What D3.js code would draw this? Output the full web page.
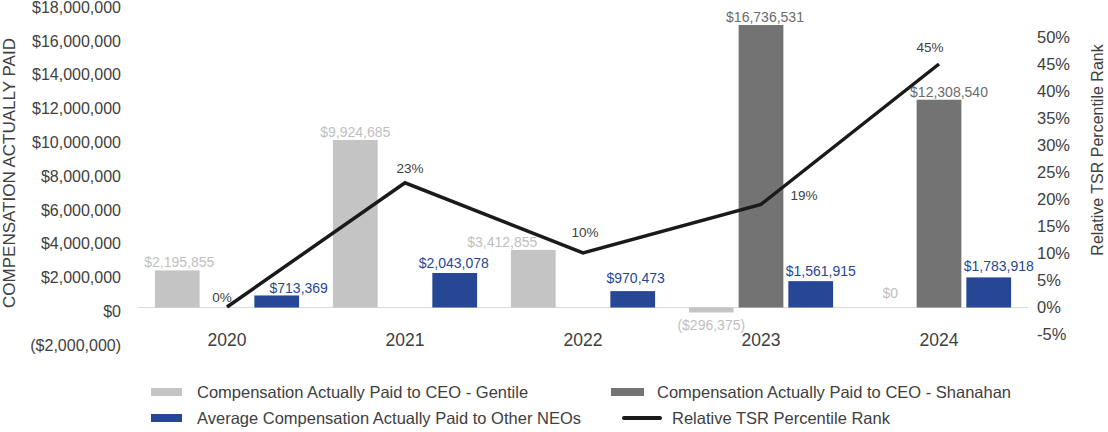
<!DOCTYPE html>
<html>
<head>
<meta charset="utf-8">
<script src="https://cdn.jsdelivr.net/npm/d3@7"></script>
<style>
  body { margin: 0; background: #fff; }
  text { font-family: "Liberation Sans", Arial, sans-serif; }
</style>
</head>
<body>
<div id="vis"></div>
<script>
// data
var years = ["2020", "2021", "2022", "2023", "2024"];
var capGentile = [2195855, 9924685, 3412855, -296375, 0];
var capShanahan = [null, null, null, 16736531, 12308540];
var capNeos = [713369, 2043078, 970473, 1561915, 1783918];
var tsrRank = [0, 23, 10, 19, 45];
var moneyTicks = [-2000000, 0, 2000000, 4000000, 6000000, 8000000, 10000000, 12000000, 14000000, 16000000, 18000000];
var pctTicks = [-5, 0, 5, 10, 15, 20, 25, 30, 35, 40, 45, 50];

// label nudges (Excel placed some labels by hand)
var gentileNudge = [[2, -3], [0, -3], [-31, -3], [0, 17], [1, -10]];
var shanahanNudge = [null, null, null, [4, -3], [10, -3]];
var neosNudge = [[22, -2], [-1, -5], [3, -8], [10, -5], [10, -6]];
var tsrNudge = [[-5, -5], [5, -10], [2, -16], [43, -4], [-9, -12]];

var W = 1108, H = 432;
var colors = { gentile: "#c4c4c4", shanahan: "#737373", neos: "#264796", line: "#1a1a1a" };
var labelColors = { gentile: "#bfbfbf", shanahan: "#6b6b6b", neos: "#264796" };

var svg = d3.select("#vis").append("svg")
    .attr("width", W)
    .attr("height", H);

var x0 = d3.scaleBand().domain(years).range([138, 1028]).paddingInner(0.19).paddingOuter(0.095);
var series = ["gentile", "shanahan", "neos"];
var x1 = d3.scaleBand().domain(series).range([0, x0.bandwidth()]).paddingInner(0.1);

var zeroY = 307.5, pxPerM = 16.88;
var yL = d3.scaleLinear().domain([-2e6, 18e6]).range([zeroY + 2 * pxPerM, zeroY - 18 * pxPerM]);
var yR = d3.scaleLinear().domain([-5, 50]).range([334, 37]);

var fmt = d3.format(",");
function money(v) {
    return v < 0 ? "($" + fmt(-v) + ")" : "$" + fmt(v);
}

// left axis
var leftAxis = svg.append("g")
    .attr("transform", "translate(121,0)")
    .call(d3.axisLeft(yL).tickValues(moneyTicks).tickSize(0).tickPadding(0).tickFormat(money));
leftAxis.select(".domain").remove();
leftAxis.selectAll("text")
    .attr("dy", "0.55em")
    .style("font-size", "16px")
    .style("fill", "#404040");

// right axis
var rightAxis = svg.append("g")
    .attr("transform", "translate(1037,0)")
    .call(d3.axisRight(yR).tickValues(pctTicks).tickSize(0).tickPadding(0).tickFormat(function(d) { return d + "%"; }));
rightAxis.select(".domain").remove();
rightAxis.selectAll("text")
    .attr("dy", "0.33em")
    .style("font-size", "16.5px")
    .style("fill", "#404040");

// axis titles
svg.append("text")
    .attr("transform", "translate(15,173) rotate(-90)")
    .attr("text-anchor", "middle")
    .style("font-size", "17px")
    .style("fill", "#404040")
    .text("COMPENSATION ACTUALLY PAID");

svg.append("text")
    .attr("transform", "translate(1103,150) rotate(-90)")
    .attr("text-anchor", "middle")
    .style("font-size", "16px")
    .style("fill", "#404040")
    .text("Relative TSR Percentile Rank");

// category labels
svg.append("g").selectAll("text")
    .data(years)
    .enter().append("text")
    .attr("x", function(d) { return x0(d) + x0.bandwidth() / 2; })
    .attr("y", 346)
    .attr("text-anchor", "middle")
    .style("font-size", "17.5px")
    .style("fill", "#404040")
    .text(function(d) { return d; });

// zero line
svg.append("line")
    .attr("x1", 138).attr("x2", 1028)
    .attr("y1", yL(0)).attr("y2", yL(0))
    .attr("stroke", "#d9d9d9")
    .attr("stroke-width", 1);

// bars
var seriesValues = { gentile: capGentile, shanahan: capShanahan, neos: capNeos };
var seriesNudge = { gentile: gentileNudge, shanahan: shanahanNudge, neos: neosNudge };

series.forEach(function(s) {
    var vals = seriesValues[s];
    var g = svg.append("g");
    years.forEach(function(yr, i) {
        var v = vals[i];
        if (v === null) return;
        var bx = x0(yr) + x1(s);
        var top = Math.min(yL(v), yL(0));
        var h = Math.abs(yL(v) - yL(0));
        g.append("rect")
            .attr("x", bx)
            .attr("y", top)
            .attr("width", x1.bandwidth())
            .attr("height", Math.max(h, 0))
            .attr("fill", colors[s]);
        var n = seriesNudge[s][i];
        var ly = v < 0 ? yL(v) + n[1] : yL(v) + n[1];
        g.append("text")
            .attr("x", bx + x1.bandwidth() / 2 + n[0])
            .attr("y", ly)
            .attr("text-anchor", "middle")
            .style("font-size", "14px")
            .style("fill", labelColors[s])
            .text(money(v));
    });
});

// TSR line
var line = d3.line()
    .x(function(d, i) { return x0(years[i]) + x0.bandwidth() / 2; })
    .y(function(d) { return yR(d); });

svg.append("path")
    .datum(tsrRank)
    .attr("d", line)
    .attr("fill", "none")
    .attr("stroke", colors.line)
    .attr("stroke-width", 3.5)
    .attr("stroke-linejoin", "miter");

svg.append("g").selectAll("text")
    .data(tsrRank)
    .enter().append("text")
    .attr("x", function(d, i) { return x0(years[i]) + x0.bandwidth() / 2 + tsrNudge[i][0]; })
    .attr("y", function(d, i) { return yR(d) + tsrNudge[i][1]; })
    .attr("text-anchor", "middle")
    .style("font-size", "13.5px")
    .style("fill", "#404040")
    .text(function(d) { return d + "%"; });

// legend
var legendItems = [
    { label: "Compensation Actually Paid to CEO - Gentile", type: "rect", color: colors.gentile, x: 151, y: 392, w: 31, tx: 197 },
    { label: "Compensation Actually Paid to CEO - Shanahan", type: "rect", color: colors.shanahan, x: 611, y: 392, w: 33, tx: 657 },
    { label: "Average Compensation Actually Paid to Other NEOs", type: "rect", color: colors.neos, x: 151, y: 418, w: 31, tx: 197 },
    { label: "Relative TSR Percentile Rank", type: "line", color: colors.line, x: 624, y: 418, w: 36, tx: 672 }
];

var legend = svg.append("g");
legendItems.forEach(function(it) {
    if (it.type === "rect") {
        legend.append("rect")
            .attr("x", it.x).attr("y", it.y - 4)
            .attr("width", it.w).attr("height", 8)
            .attr("fill", it.color);
    } else {
        legend.append("line")
            .attr("x1", it.x).attr("x2", it.x + it.w)
            .attr("y1", it.y).attr("y2", it.y)
            .attr("stroke", it.color)
            .attr("stroke-width", 4)
            .attr("stroke-linecap", "round");
    }
    legend.append("text")
        .attr("x", it.tx)
        .attr("y", it.y + 6)
        .style("font-size", "16.5px")
        .style("fill", "#404040")
        .text(it.label);
});
</script>
</body>
</html>
